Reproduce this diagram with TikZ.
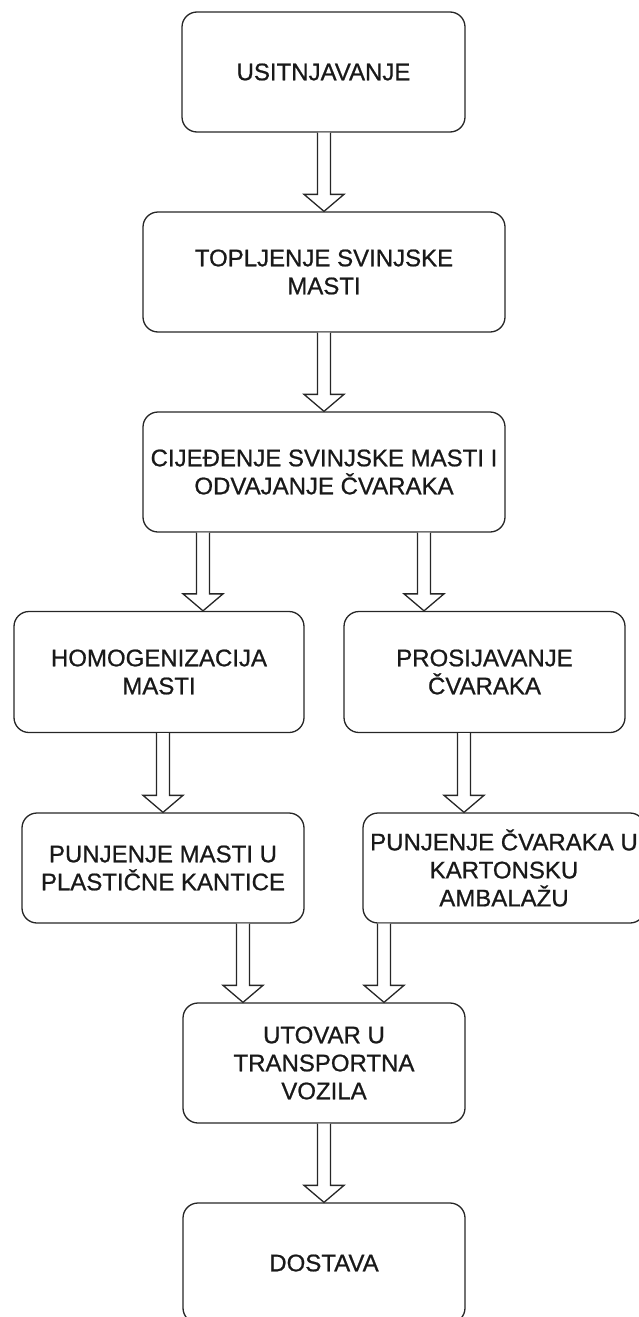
\documentclass[tikz,border=0pt]{standalone}
\usepackage{fontspec}
\setmainfont{Liberation Sans}[FakeBold=0.8]
\usetikzlibrary{calc}

% hollow block arrow: x position, from node, to node
\newcommand\flowarrow[3]{%
  \draw[arr] let \p1=(#2.south), \p2=(#3.north) in
    (#1pt-6.5pt,\y1) -- (#1pt-6.5pt,\y2+17pt) -- (#1pt-20pt,\y2+17pt) -- (#1pt,\y2)
    -- (#1pt+20pt,\y2+17pt) -- (#1pt+6.5pt,\y2+17pt) -- (#1pt+6.5pt,\y1);}

\begin{document}
\begin{tikzpicture}[x=1pt,y=-1pt,
  box/.style={draw=black!85,line width=1.3pt,rounded corners=15pt,inner sep=0pt,
    align=center,text=black!90,font=\fontsize{24}{28}\selectfont},
  arr/.style={draw=black!85,line width=1.3pt,fill=white,line join=miter}]
\useasboundingbox (0,0) rectangle (638,1317);
\node[box,minimum width=283,minimum height=120] (usit) at (323.5,72) {USITNJAVANJE};
\node[box,minimum width=362,minimum height=120] (topl) at (324,272) {TOPLJENJE SVINJSKE\\MASTI};
\node[box,minimum width=362,minimum height=120] (cije) at (324,472) {CIJEĐENJE SVINJSKE MASTI I\\ODVAJANJE ČVARAKA};
\node[box,minimum width=290,minimum height=121] (homo) at (159,672) {HOMOGENIZACIJA\\MASTI};
\node[box,minimum width=281,minimum height=121] (pros) at (484.5,672) {PROSIJAVANJE\\ČVARAKA};
\node[box,minimum width=282,minimum height=110] (punm) at (163,868) {PUNJENJE MASTI U\\PLASTIČNE KANTICE};
\node[box,minimum width=282,minimum height=110] (punc) at (504,868) {PUNJENJE ČVARAKA U\\KARTONSKU\\AMBALAŽU};
\node[box,minimum width=282,minimum height=120] (utov) at (324,1063) {UTOVAR U\\TRANSPORTNA\\VOZILA};
\node[box,minimum width=282,minimum height=120] (dost) at (324,1263) {DOSTAVA};
\flowarrow{324}{usit}{topl}
\flowarrow{324}{topl}{cije}
\flowarrow{203}{cije}{homo}
\flowarrow{424}{cije}{pros}
\flowarrow{163}{homo}{punm}
\flowarrow{464}{pros}{punc}
\flowarrow{243}{punm}{utov}
\flowarrow{384}{punc}{utov}
\flowarrow{324}{utov}{dost}
\end{tikzpicture}
\end{document}
